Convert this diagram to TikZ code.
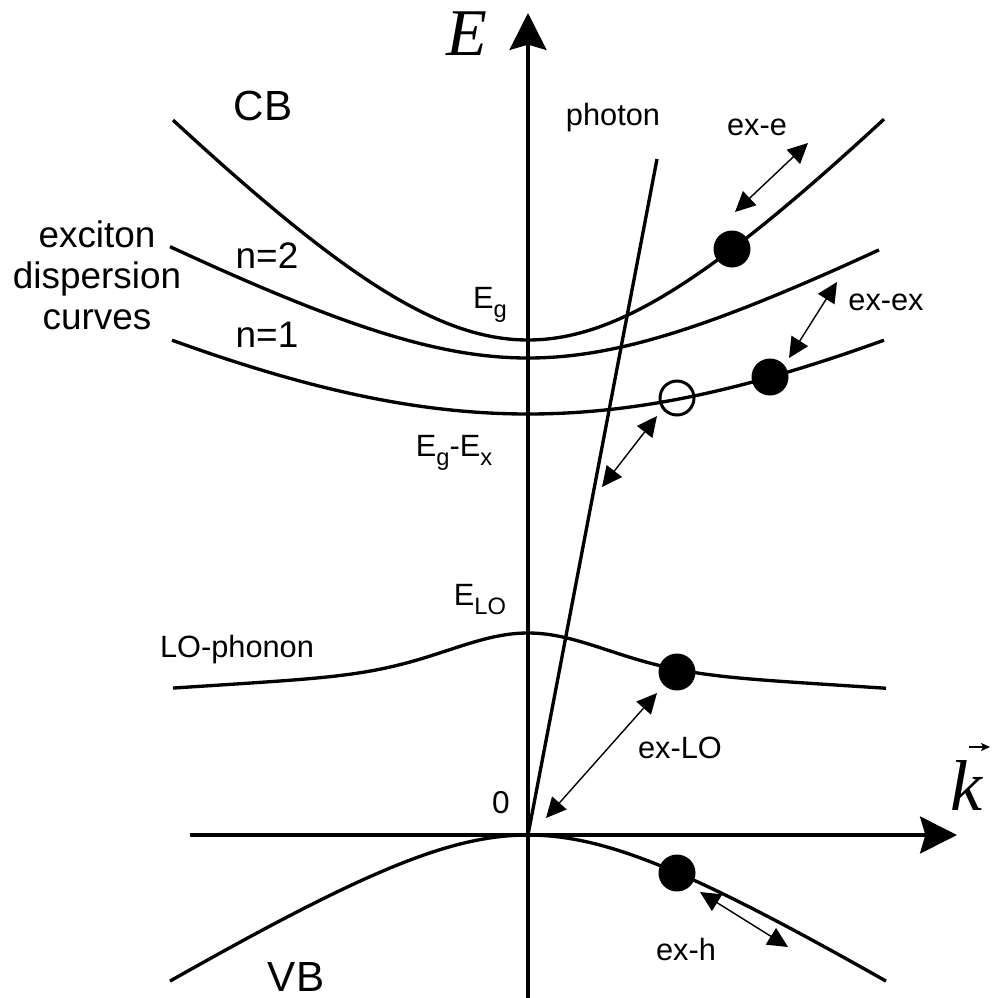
\documentclass[tikz,border=0pt]{standalone}
\usepackage{fontspec}
\setmainfont{Liberation Sans}
\newfontfamily\tms{Liberation Serif}
\usetikzlibrary{arrows.meta}
\newcommand\lowsub[1]{\raisebox{-0.3em}{\fontsize{13.5}{14}\selectfont #1}}
\begin{document}
\begin{tikzpicture}[x=0.02cm,y=-0.02cm,
  band/.style={line width=1.9pt},
  axis/.style={line width=2.2pt,-{Stealth[length=21pt,width=21pt,inset=3pt]}},
  xarrow/.style={line width=0.8pt,{Triangle[length=11.5pt,width=11pt]}-{Triangle[length=11.5pt,width=11pt]}},
  vecarrow/.style={line width=0.9pt,-{Stealth[length=5pt,width=4.5pt,inset=1pt]}},
  dot/.style={circle,fill=black,inner sep=0pt,minimum size=0.74cm},
  hole/.style={circle,draw=black,line width=1.7pt,inner sep=0pt,minimum size=0.68cm},
  big/.style={font=\fontsize{24}{24}\selectfont,anchor=base,inner sep=0pt},
  mid/.style={font=\fontsize{21}{23.3}\selectfont,anchor=base,inner sep=0pt},
  lab/.style={font=\fontsize{17.5}{20}\selectfont,anchor=base,inner sep=0pt}]
\useasboundingbox (0,0) rectangle (992,998);
\coordinate (O) at (528,835);
% axes
\coordinate (kstart) at (190,835);
\coordinate (kend) at (957,835);
\coordinate (Estart) at (528,998);
\coordinate (Eend) at (528,13);
\draw[axis] (kstart) -- (kend);
\draw[axis] (Estart) -- (Eend);
% bands
\draw[band] plot[domain=-355:356,samples=120] ({528+\x},{340-212*(sqrt(1+(\x/200)^2)-1)});
\draw[band] plot[domain=-358:351,samples=120] ({528+\x},{358-106*(sqrt(1+(\x/200)^2)-1)});
\draw[band] plot[domain=-356:356,samples=120] ({528+\x},{414-218*(sqrt(1+(\x/400)^2)-1)});
\draw[band] plot[domain=-355:358,samples=150] ({528+\x},{633+35*(1-exp(-(\x/110)^2))+6.5*(sqrt((\x/100)^2+0.25)-0.5)});
\draw[band] plot[domain=-358:358,samples=120] ({528+\x},{835+92*(sqrt(1+(\x/150)^2)-1)});
% photon
\coordinate (ph) at (657,159);
\draw[band] (O) -- (ph);
% particles
\node[dot] (de) at (732,249) {};
\node[dot] (dx) at (770,377) {};
\node[hole] (hx) at (677,398) {};
\node[dot] (dlo) at (677,672) {};
\node[dot] (dh) at (677,873) {};
% interaction arrows
\coordinate (a1) at (735,212); \coordinate (b1) at (808,143);
\coordinate (a2) at (789,358); \coordinate (b2) at (837,282);
\coordinate (a3) at (602,487); \coordinate (b3) at (657,416);
\coordinate (a4) at (546,818); \coordinate (b4) at (657,693);
\coordinate (a5) at (700,892); \coordinate (b5) at (788,947);
\draw[xarrow] (a1) -- (b1);
\draw[xarrow] (a2) -- (b2);
\draw[xarrow] (a3) -- (b3);
\draw[xarrow] (a4) -- (b4);
\draw[xarrow] (a5) -- (b5);
% labels
\node[font=\fontsize{38}{38}\selectfont\tms\itshape,anchor=base,inner sep=0pt] (Elab) at (467,55) {E};
\node[font=\fontsize{41}{41}\selectfont\tms\itshape,anchor=base,inner sep=0pt] (klab) at (966,810) {k};
\coordinate (vs) at (969,747);
\coordinate (ve) at (990,747);
\draw[vecarrow] (vs) -- (ve);
\node[big] (cb) at (263,120) {CB};
\node[big] (vb) at (296,991) {VB};
\node[mid,align=center] (exc) at (97,329) {exciton\\dispersion\\curves};
\node[mid] (n2) at (267,268) {n=2};
\node[mid] (n1) at (267,347) {n=1};
\node[lab] (eg) at (490,308) {E\lowsub{g}};
\node[lab] (egx) at (454,456) {E\lowsub{g}-E\lowsub{x}};
\node[lab] (elo) at (480,605) {E\lowsub{LO}};
\node[lab] (lop) at (237,657) {LO-phonon};
\node[lab] (pht) at (613,125) {photon};
\node[lab] (exe) at (757,135) {ex-e};
\node[lab] (exx) at (886,310) {ex-ex};
\node[lab] (exlo) at (680,758) {ex-LO};
\node[lab] (exh) at (686,960) {ex-h};
\node[lab,font=\fontsize{18}{20}\selectfont] (zero) at (501,813) {0};
\end{tikzpicture}
\end{document}
